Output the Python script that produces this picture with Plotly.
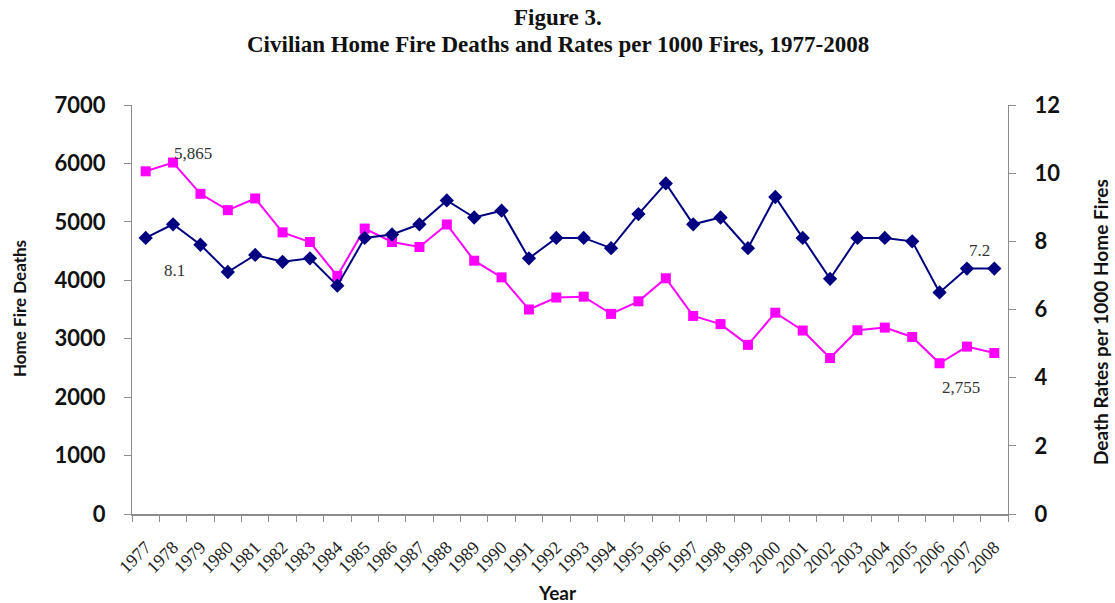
import plotly.graph_objects as go

years = [str(y) for y in range(1977, 2009)]
deaths = [5865, 6015, 5480, 5200, 5400, 4820, 4655, 4075, 4885, 4655, 4570, 4955,
          4335, 4050, 3500, 3705, 3720, 3425, 3640, 4035, 3390, 3250, 2895, 3445,
          3140, 2670, 3145, 3190, 3030, 2580, 2865, 2755]
rates = [8.1, 8.5, 7.9, 7.1, 7.6, 7.4, 7.5, 6.7, 8.1, 8.2, 8.5, 9.2,
         8.7, 8.9, 7.5, 8.1, 8.1, 7.8, 8.8, 9.7, 8.5, 8.7, 7.8, 9.3,
         8.1, 6.9, 8.1, 8.1, 8.0, 6.5, 7.2, 7.2]
left_ticks = [0, 1000, 2000, 3000, 4000, 5000, 6000, 7000]
right_ticks = [0, 2, 4, 6, 8, 10, 12]

AX = "#8c8c8c"
SANS = "Lato, 'Open Sans', sans-serif"
SERIF = "'Liberation Serif', 'Times New Roman', serif"

fig = go.Figure()
fig.add_trace(go.Scatter(x=years, y=rates, yaxis="y2", mode="lines+markers",
                         line=dict(color="#000080", width=2),
                         marker=dict(symbol="diamond", size=11, color="#000080"),
                         name="Rate"))
fig.add_trace(go.Scatter(x=years, y=deaths, mode="lines+markers",
                         line=dict(color="#ff00ff", width=2),
                         marker=dict(symbol="square", size=10, color="#ff00ff"),
                         name="Deaths"))

tickfont = dict(family=SANS, size=22, color="#111111", weight="bold")
fig.update_layout(
    width=1115, height=603,
    paper_bgcolor="white", plot_bgcolor="white",
    showlegend=False,
    margin=dict(l=132, r=107, t=105, b=89),
    xaxis=dict(type="category", range=[-0.5, len(years) - 0.5], showgrid=False,
               showline=True, linecolor=AX, linewidth=1.5,
               ticks="outside", ticklen=6, tickcolor=AX, tickson="boundaries",
               tickangle=-45, tickfont=dict(family=SERIF, size=18, color="#222222"),
               ticklabelstandoff=14, zeroline=False),
    xaxis2=dict(overlaying="x", range=[-0.5, len(years) - 0.5], tick0=-0.5, dtick=1,
                ticks="inside", ticklen=4, tickcolor=AX, showticklabels=False,
                showgrid=False, showline=False, zeroline=False, side="bottom"),
    yaxis=dict(range=[0, 7000], tickvals=left_ticks, showgrid=False, showline=True,
               linecolor=AX, linewidth=1.2, ticks="outside", ticklen=7, tickcolor=AX,
               tickfont=tickfont, ticklabelstandoff=14, zeroline=False),
    yaxis2=dict(range=[0, 12], tickvals=right_ticks, overlaying="y", side="right",
                showgrid=False, showline=True, linecolor=AX, linewidth=1.2,
                ticks="outside", ticklen=7, tickcolor=AX, tickfont=tickfont,
                ticklabelstandoff=14, zeroline=False),
    yaxis3=dict(range=[0, 7000], tickvals=left_ticks, overlaying="y", side="left",
                showgrid=False, showline=False, ticks="inside", ticklen=7, tickcolor=AX,
                showticklabels=False, zeroline=False),
    yaxis4=dict(range=[0, 12], tickvals=right_ticks, overlaying="y", side="right",
                showgrid=False, showline=False, ticks="inside", ticklen=7, tickcolor=AX,
                showticklabels=False, zeroline=False),
)

def px(xp, yp):
    return (xp - 132) / 876, (514 - yp) / 409

anns = []
x, y = px(558, 18)
anns.append(dict(text="<b>Figure 3.</b>", x=x, y=y, font=dict(family=SERIF, size=23, color="#111")))
x, y = px(558, 45)
anns.append(dict(text="<b>Civilian Home Fire Deaths and Rates per 1000 Fires, 1977-2008</b>",
                 x=x, y=y, font=dict(family=SERIF, size=23, color="#111")))
x, y = px(557, 592)
anns.append(dict(text="<b>Year</b>", x=x, y=y, font=dict(family=SANS, size=19, color="#111")))
x, y = px(19, 309)
anns.append(dict(text="<b>Home Fire Deaths</b>", x=x, y=y, textangle=-90,
                 font=dict(family=SANS, size=17, color="#111")))
x, y = px(1100, 322)
anns.append(dict(text="<b>Death Rates per 1000 Home Fires</b>", x=x, y=y, textangle=-90,
                 font=dict(family=SANS, size=19, color="#111")))
for txt, xp, yp in [("5,865", 193, 153), ("8.1", 174, 270), ("7.2", 979, 250), ("2,755", 961, 387)]:
    x, y = px(xp, yp)
    anns.append(dict(text=txt, x=x, y=y, font=dict(family=SERIF, size=17, color="#333")))
for a in anns:
    a.update(xref="paper", yref="paper", showarrow=False, xanchor="center", yanchor="middle")
fig.update_layout(annotations=anns)

fig.write_html("out.html", config={"displayModeBar": False},
               post_script="document.body.style.margin='0';")
